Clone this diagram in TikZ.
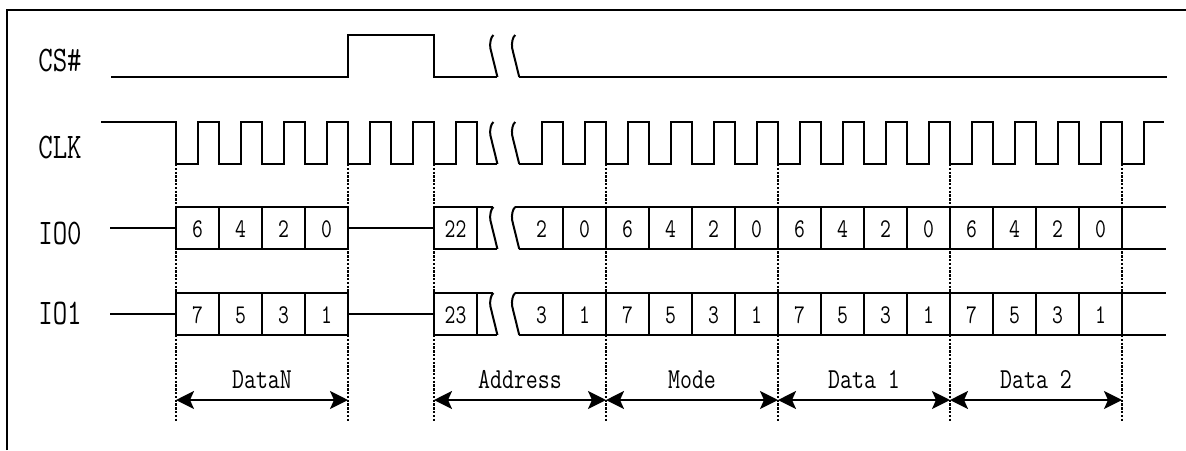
\documentclass[tikz,border=0pt]{standalone}
\usetikzlibrary{arrows.meta}

\tikzset{
 wave/.style={line width=1pt},
 guide/.style={line width=0.8pt,dash pattern=on 1.2pt off 0.7pt},
 span/.style={line width=1pt,{Stealth[length=9pt,width=9pt,inset=2pt]}-{Stealth[length=9pt,width=9pt,inset=2pt]}},
 sig/.style={anchor=west,inner sep=0pt,xscale=0.78,font=\ttfamily\fontsize{18}{18}\selectfont},
 bit/.style={inner sep=0pt,xscale=0.78,font=\ttfamily\fontsize{13.5}{13.5}\selectfont},
 phase/.style={inner sep=0pt,xscale=0.8,font=\ttfamily\fontsize{14.5}{14.5}\selectfont},
 brk/.pic={\draw[wave] (3.4,0) .. controls (0.8,2) and (-0.3,8) .. (0.3,13) -- (6.2,37) .. controls (6.6,39.5) .. (7.4,42);}
}

% one data line: #1 top, #2 name, #3-#6 bits, #7 first address bit
\newcommand{\iorow}[7]{
\draw[wave] (110,#1+21) -- (176,#1+21) (176,#1) rectangle (348,#1+42) (348,#1+21) -- (434,#1+21);
\draw[wave] (493.4,#1) -- (434,#1) -- (434,#1+42) -- (497.4,#1+42);
\draw[wave] (515.2,#1) -- (1166,#1) (519.2,#1+42) -- (1166,#1+42);
\foreach \x in {219,262,305,477,563,606,...,1122} \draw[wave] (\x,#1) -- (\x,#1+42);
\pic at (490,#1) {brk}; \pic at (511.8,#1) {brk};
\foreach \v [count=\i] in {#3,#4,#5,#6} \node[bit] (#2a\i) at (154.5+43*\i,#1+22) {\v};
\node[bit] (#2adr) at (455.5,#1+22) {#7};
\node[bit] (#2b1) at (541.5,#1+22) {#5}; \node[bit] (#2b2) at (584.5,#1+22) {#6};
\foreach \j in {0,1,2} \foreach \v [count=\i] in {#3,#4,#5,#6}
  \node[bit] (#2n\j\i) at (584.5+172*\j+43*\i,#1+22) {\v};
}

\begin{document}
\begin{tikzpicture}[x=0.5pt,y=-0.5pt]
\useasboundingbox (0,0) rectangle (1186,450);
\draw[wave] (7,450) -- (7,10) -- (1186,10);
% CS#
\node[sig] (lcs) at (38,60) {CS\#};
\draw[wave] (111,77) -- (348,77) -- (348,35) -- (434,35) -- (434,77) -- (497.4,77);
\pic at (490,35) {brk}; \pic at (511.8,35) {brk};
\draw[wave] (519.2,77) -- (1167,77);
% CLK
\node[sig] (lclk) at (38,147) {CLK};
\draw[wave] (101,122) -- (176,122) \foreach \k in {1,...,7} {-- ++(0,42) -- ++(21.5,0) -- ++(0,-42) -- ++(21.5,0)} -- ++(0,42) -- (497.4,164);
\pic at (490,122) {brk}; \pic at (511.8,122) {brk};
\draw[wave] (519.2,164) -- (541.5,164) -- (541.5,122) -- (563,122) \foreach \k in {1,...,13} {-- ++(0,42) -- ++(21.5,0) -- ++(0,-42) -- ++(21.5,0)} -- ++(0,42) -- ++(21.5,0) -- ++(0,-42) -- (1164,122);
% IO0 / IO1
\node[sig] (lio0) at (38,233) {IO0};
\iorow{207}{io0}{6}{4}{2}{0}{22}
\node[sig] (lio1) at (38,313) {IO1};
\iorow{293}{io1}{7}{5}{3}{1}{23}
% phases
\foreach \x [count=\i] in {176,348,434,606,778,950,1122} {
  \draw[guide] (\x,164) -- (\x,422);
  \coordinate (g\i) at (\x,400);
}
\draw[span] (g1) -- node[phase,yshift=10pt] (pdatan) {DataN} (g2);
\draw[span] (g3) -- node[phase,yshift=10pt] (paddr) {Address} (g4);
\draw[span] (g4) -- node[phase,yshift=10pt] (pmode) {Mode} (g5);
\draw[span] (g5) -- node[phase,yshift=10pt] (pdata1) {Data 1} (g6);
\draw[span] (g6) -- node[phase,yshift=10pt] (pdata2) {Data 2} (g7);
\end{tikzpicture}
\end{document}
